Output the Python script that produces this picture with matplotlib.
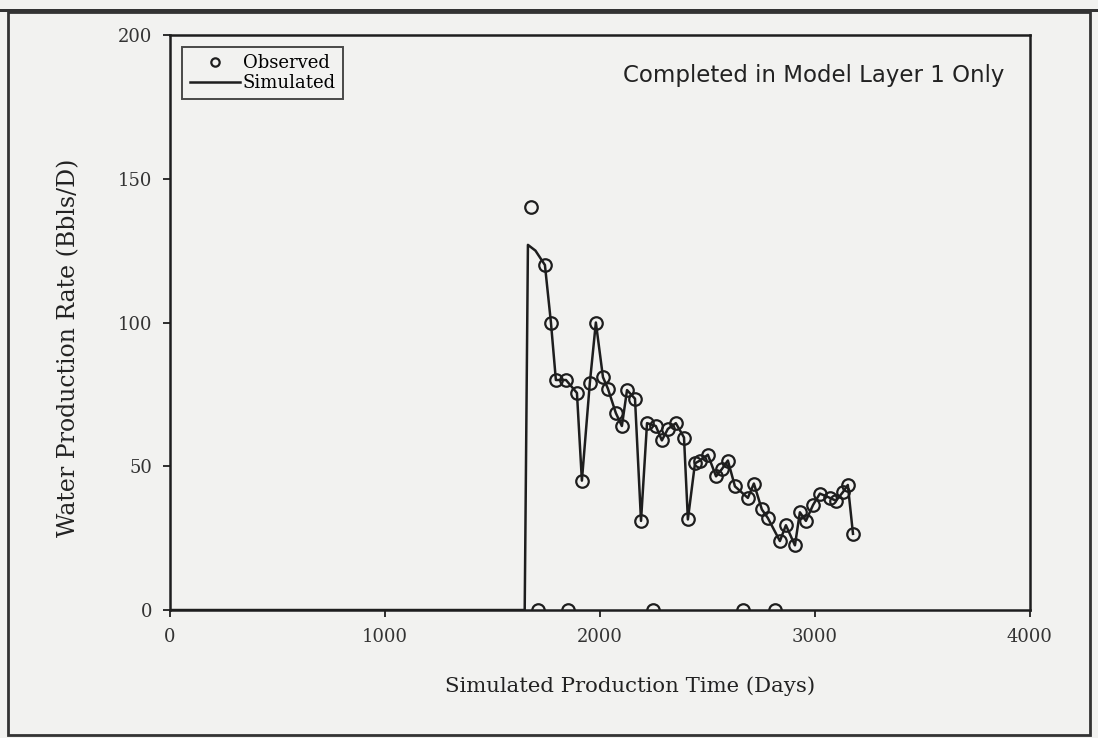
import numpy as np
import matplotlib.pyplot as plt
from matplotlib.patches import Rectangle

# observed water rates (days, bbl/d)
obs_days = [1679, 1744, 1772, 1795, 1842, 1893, 1916, 1953, 1981, 2014, 2037, 2074,
            2102, 2126, 2163, 2191, 2219, 2260, 2288, 2316, 2353, 2391, 2409, 2442,
            2465, 2502, 2540, 2567, 2595, 2628, 2688, 2716, 2753, 2781, 2837, 2865,
            2907, 2930, 2958, 2991, 3023, 3070, 3098, 3130, 3153, 3177]
obs_rate = [140, 120, 100, 80, 80, 75.5, 45, 79, 100, 81, 77, 68.5,
            64, 76.5, 73.5, 31, 65, 64, 59, 63, 65, 60, 31.5, 51,
            52, 54, 46.5, 49, 52, 43, 39, 44, 35, 32, 24, 29.5,
            22.5, 34, 31, 36.5, 40.5, 39, 38, 41, 43.5, 26.5]

# zero-rate observations sitting on the axis
zero_days = [1712, 1851, 2247, 2665, 2814]
zero_rate = [0, 0, 0, 0, 0]

# simulated rate: shut in until ~1650 days, then follows the history
sim_days = [0, 1650, 1665, 1700] + obs_days[1:]
sim_rate = [0, 0, 127, 125] + obs_rate[1:]

x_ticks = [0, 1000, 2000, 3000, 4000]
y_ticks = [0, 50, 100, 150, 200]

paper = '#f2f2f0'
ink = '#1e1e1e'
serif = 'DejaVu Serif'

fig = plt.figure(figsize=(10.98, 7.38), dpi=100, facecolor=paper)
ax = fig.add_axes([0.1548, 0.1734, 0.7832, 0.7792])
ax.set_facecolor(paper)

ax.plot(sim_days, sim_rate, color=ink, lw=1.8, label='Simulated', zorder=2)
ax.plot(obs_days, obs_rate, ls='none', marker='o', ms=9, mfc='none', mec=ink,
        mew=1.6, label='Observed', zorder=3)
ax.plot(zero_days, zero_rate, ls='none', marker='o', ms=9, mfc='none', mec=ink,
        mew=1.6, zorder=3)

ax.set_xlim(0, 4000)
ax.set_ylim(0, 200)
ax.set_xticks(x_ticks)
ax.set_yticks(y_ticks)

for lbl in ax.get_xticklabels() + ax.get_yticklabels():
    lbl.set_family(serif)
    lbl.set_fontsize(13)
    lbl.set_color('#333333')
ax.tick_params(direction='out', length=5, width=1.3, color=ink, pad=8)

for s in ax.spines.values():
    s.set_color(ink)
    s.set_linewidth(1.8)

ax.set_xlabel('Simulated Production Time (Days)', family=serif, fontsize=15.3,
              color='#222222')
ax.set_ylabel('Water Production Rate (Bbls/D)', family=serif, fontsize=17,
              color='#222222')
ax.xaxis.set_label_coords(0.535, -0.115)
ax.yaxis.set_label_coords(-0.104, 0.456)

ax.text(0.97, 0.93, 'Completed in Model Layer 1 Only', transform=ax.transAxes,
        ha='right', va='center', family='DejaVu Sans', fontsize=16.5, color='#222222')

h, l = ax.get_legend_handles_labels()
leg = ax.legend([h[1], h[0]], [l[1], l[0]], loc='upper left',
                bbox_to_anchor=(0.004, 0.995), prop={'family': serif, 'size': 13},
                frameon=True, fancybox=False, edgecolor=ink, facecolor=paper,
                handlelength=2.8, handletextpad=0.15, borderpad=0.4, labelspacing=0.1)
leg.get_frame().set_linewidth(1.4)
for hd in leg.legend_handles:
    if hd.get_marker() == 'o':
        hd.set_markersize(6)

# page border around the figure
fig.patches.append(Rectangle((0.007, 0.004), 0.986, 0.98, transform=fig.transFigure,
                             fill=False, edgecolor='#333333', lw=2.0))
fig.patches.append(Rectangle((0.0, 0.984), 1.0, 0.004, transform=fig.transFigure,
                             color='#333333', lw=0))

fig.savefig('out.png', dpi=100, facecolor=paper)
